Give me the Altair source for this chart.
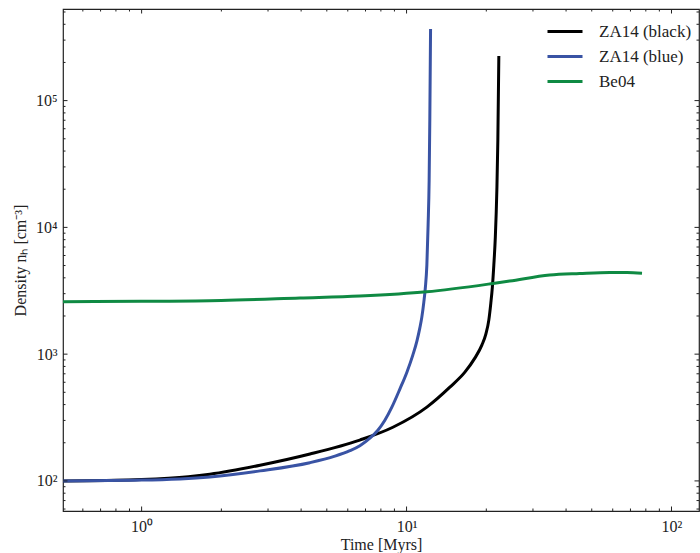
import altair as alt
import pandas as pd

# ---- data ----
black_t = [0.505, 0.8, 1.0, 1.5, 1.81, 2.8, 4.32, 6.66, 8.88, 11.93, 14.57, 16.60, 18.10, 19.24,
           19.92, 20.44, 20.80, 21.08, 21.35, 21.63, 21.92, 22.11, 22.30]
black_d = [100, 101, 102.5, 108, 113, 133, 163, 210, 265, 382, 549, 721, 930, 1178,
           1438, 1855, 2527, 3380, 5040, 8380, 19700, 48900, 224900]

blue_t = [0.505, 1.0, 1.81, 2.8, 4.316, 5.363, 6.109, 6.666, 7.271, 7.793, 8.283, 8.801, 9.434,
          10.03, 10.56, 10.94, 11.22, 11.42, 11.62, 11.77, 11.93, 12.06, 12.17, 12.24, 12.32]
blue_d = [100, 101.5, 107.5, 120, 139.2, 156.7, 173.1, 189.6, 217.3, 251.3, 301.4, 382, 530,
          721, 982, 1267, 1604, 1959, 2573, 3318, 5040, 10430, 23620, 70300, 367500]

green_t = [0.505, 1.0, 2.0, 3.96, 6.66, 11.9, 21.2, 24.5, 34.7, 45, 58.5, 68, 77.4]
green_d = [2590, 2610, 2650, 2770, 2870, 3100, 3610, 3770, 4210, 4330, 4415, 4400, 4340]

series_names = ["ZA14 (black)", "ZA14 (blue)", "Be04"]
series_colors = ["#000000", "#3953a4", "#0f8a43"]

x_domain = [0.505, 127.0]
y_domain = [57.9, 528000]

x_major = [1, 10, 100]
y_major = [100, 1000, 10000, 100000]
x_minor = [m * 10 ** k for k in (-1, 0, 1) for m in range(2, 10)]
x_minor = [v for v in x_minor if x_domain[0] < v < x_domain[1]]
y_minor = [m * 10 ** k for k in (1, 2, 3, 4, 5) for m in range(2, 10)]
y_minor = [v for v in y_minor if y_domain[0] < v < y_domain[1]]

W, H = 636, 502
FONT = "Liberation Serif"

rows = []
for name, ts, ds in zip(series_names, [black_t, blue_t, green_t], [black_d, blue_d, green_d]):
    for i, (t, d) in enumerate(zip(ts, ds)):
        rows.append({"series": name, "t": t, "d": d, "order": i})
df = pd.DataFrame(rows)

xscale = alt.Scale(type="log", domain=x_domain, nice=False)
yscale = alt.Scale(type="log", domain=y_domain, nice=False)

x_label_expr = "'10' + (datum.value < 5 ? '⁰' : datum.value < 50 ? '¹' : '²')"
y_label_expr = ("'10' + (datum.value < 500 ? '²' : datum.value < 5000 ? '³' : "
                "datum.value < 50000 ? '⁴' : '⁵')")

lines = alt.Chart(df).mark_line(strokeWidth=3, interpolate="monotone", clip=True).encode(
    x=alt.X("t:Q", scale=xscale,
            axis=alt.Axis(values=x_major, labelExpr=x_label_expr, ticks=False, domain=False,
                          grid=False, labelPadding=7, title="Time [Myrs]",
                          titleY=38, titleBaseline="alphabetic")),
    y=alt.Y("d:Q", scale=yscale,
            axis=alt.Axis(values=y_major, labelExpr=y_label_expr, ticks=False, domain=False,
                          grid=False, labelPadding=6, title="Density nₕ [cm⁻³]", titlePadding=7)),
    color=alt.Color("series:N",
                    scale=alt.Scale(domain=series_names, range=series_colors),
                    legend=alt.Legend(title=None, orient="none", legendX=483, legendY=10,
                                      symbolType="stroke", symbolSize=1225, symbolStrokeWidth=3,
                                      labelOffset=15, clipHeight=25, rowPadding=0, padding=0,
                                      labelFontSize=17, labelFont=FONT, labelColor="#222")),
    order="order:Q",
)

def xticks(vals, length):
    d = pd.DataFrame({"v": vals})
    bot = alt.Chart(d).mark_rule(color="#222", strokeWidth=1).encode(
        x=alt.X("v:Q", scale=xscale), y=alt.value(H), y2=alt.value(H - length))
    top = alt.Chart(d).mark_rule(color="#222", strokeWidth=1).encode(
        x=alt.X("v:Q", scale=xscale), y=alt.value(0), y2=alt.value(length))
    return [bot, top]

def yticks(vals, length):
    d = pd.DataFrame({"v": vals})
    left = alt.Chart(d).mark_rule(color="#222", strokeWidth=1).encode(
        y=alt.Y("v:Q", scale=yscale), x=alt.value(0), x2=alt.value(length))
    right = alt.Chart(d).mark_rule(color="#222", strokeWidth=1).encode(
        y=alt.Y("v:Q", scale=yscale), x=alt.value(W), x2=alt.value(W - length))
    return [left, right]

layers = [lines] + xticks(x_major, 4.5) + xticks(x_minor, 2.5) + yticks(y_major, 4.5) + yticks(y_minor, 2.5)

chart = alt.layer(*layers).properties(
    width=W, height=H,
    background="white",
    autosize=alt.AutoSizeParams(type="none"),
    padding={"left": 63, "top": 9, "right": 1, "bottom": 42},
).configure_view(
    stroke="#222", strokeWidth=1.2
).configure_axis(
    labelFont=FONT, labelFontSize=16, labelColor="#222",
    titleFont=FONT, titleFontSize=16, titleColor="#222", titleFontWeight="normal",
).configure_legend(
    labelFont=FONT, labelFontSize=17, labelColor="#222",
)

chart.save("out.html", embed_options={"renderer": "svg", "actions": False})
